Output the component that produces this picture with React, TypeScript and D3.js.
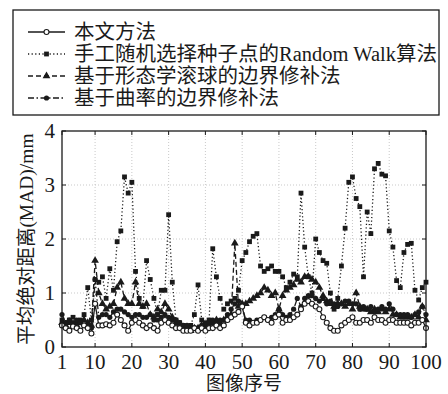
import React from "react";
import * as d3 from "d3";

// 图像序号 1..100
const imageIds = d3.range(1, 101);

// 本文方法
const oursMad = [
  0.4, 0.35, 0.3, 0.38, 0.35, 0.3, 0.4, 0.35, 0.25, 0.8,
  0.4, 0.4, 0.42, 0.4, 0.45, 0.6, 0.5, 0.4, 0.3, 0.45,
  0.5, 0.45, 0.4, 0.35, 0.4, 0.35, 0.3, 0.45, 0.5, 0.45,
  0.4, 0.35, 0.35, 0.3, 0.3, 0.3, 0.35, 0.3, 0.35, 0.3,
  0.35, 0.35, 0.4, 0.35, 0.4, 0.5, 0.55, 0.6, 0.65, 0.75,
  0.45, 0.4, 0.45, 0.45, 0.5, 0.55, 0.5, 0.45, 0.55, 0.6,
  0.45, 0.5, 0.5, 0.55, 0.6, 0.7, 0.8, 0.85, 0.8, 0.75,
  0.7, 0.55, 0.45, 0.35, 0.3, 0.3, 0.4, 0.45, 0.5, 0.55,
  0.45, 0.45, 0.5, 0.5, 0.45, 0.55, 0.5, 0.5, 0.45, 0.5,
  0.5, 0.45, 0.45, 0.45, 0.45, 0.4, 0.45, 0.45, 0.5, 0.35,
];

// 手工随机选择种子点的Random Walk算法
const randomWalkMad = [
  0.5, 0.45, 0.5, 0.55, 0.45, 0.5, 0.6, 1.1, 0.5, 1.25,
  1.2, 1.3, 0.9, 1.45, 1.05, 1.95, 2.15, 3.15, 2.85, 3.05,
  1.4, 0.9, 0.75, 1.6, 1.25, 0.9, 0.6, 1.05, 1.05, 2.45,
  1.2, 0.5, 0.45, 0.4, 0.35, 0.4, 0.6, 1.15, 0.5, 0.45,
  0.5, 1.82, 1.3, 0.9, 0.7, 0.8, 0.85, 0.9, 1.05, 1.6,
  1.75, 1.95, 2.05, 2.1, 1.5, 1.4, 1.45, 1.5, 1.4, 1.4,
  1.3, 1.1, 1.2, 1.35, 1.3, 2.85, 1.85, 1.3, 1.0, 2.0,
  1.75, 1.6, 1.55, 1.0, 0.7, 0.9, 1.5, 2.2, 3.05, 3.15,
  2.75, 2.6, 1.3, 2.5, 2.1, 3.3, 3.4, 3.2, 3.17, 2.15,
  1.85, 1.23, 1.1, 1.75, 1.9, 1.92, 1.05, 0.87, 1.1, 1.2,
];

// 基于形态学滚球的边界修补法
const morphMad = [
  0.45, 0.4, 0.45, 0.4, 0.4, 0.45, 0.5, 0.45, 0.4, 1.6,
  1.0, 0.8, 0.7, 0.75, 0.8, 1.1, 1.2, 0.9, 0.8, 0.8,
  1.2, 0.8, 0.75, 0.8, 0.6, 0.55, 0.7, 0.65, 0.8, 0.7,
  0.55, 0.45, 0.4, 0.35, 0.3, 0.3, 0.35, 0.35, 0.4, 0.35,
  0.4, 0.45, 0.5, 0.45, 0.5, 0.55, 0.6, 1.92, 0.75, 0.8,
  0.8, 0.85, 0.9, 0.95, 1.0, 1.1, 1.05, 0.95, 1.0, 0.7,
  0.95, 1.05, 1.1, 1.15, 1.25, 1.2, 1.3, 1.3, 1.25, 1.2,
  1.1, 0.95, 0.85, 0.8, 0.75, 0.8, 0.8, 0.75, 0.8, 0.7,
  1.0, 0.75, 0.7, 0.7, 0.65, 0.7, 0.65, 0.7, 0.65, 0.7,
  0.6, 0.6, 0.55, 0.55, 0.55, 0.55, 0.6, 0.55, 0.75, 0.5,
];

// 基于曲率的边界修补法
const curvatureMad = [
  0.6, 0.45, 0.5, 0.45, 0.5, 0.45, 0.4, 0.4, 0.35, 1.25,
  0.55, 0.6, 0.6, 0.55, 0.65, 0.7, 0.7, 0.65, 0.6, 0.55,
  0.6, 0.6, 0.55, 0.55, 0.6, 0.5, 0.5, 0.55, 0.6, 0.55,
  0.5, 0.5, 0.45, 0.4, 0.4, 0.35, 0.35, 0.35, 0.4, 0.4,
  0.45, 0.5, 0.45, 0.5, 0.5, 0.6, 0.7, 0.8, 0.85, 0.75,
  0.5, 0.5, 0.45, 0.5, 0.5, 0.55, 0.5, 0.55, 0.6, 0.7,
  0.6, 0.55, 0.6, 0.7, 0.9, 0.75, 0.9, 0.95, 0.95, 0.9,
  0.85, 0.9, 0.8, 0.85, 0.8, 0.75, 0.8, 0.85, 0.85, 0.8,
  0.8, 0.7, 0.75, 0.7, 0.75, 0.65, 0.7, 0.75, 0.7, 0.8,
  0.7, 0.6, 0.6, 0.6, 0.6, 0.55, 0.6, 0.65, 0.75, 0.6,
];

const seriesNames = [
  "本文方法",
  "手工随机选择种子点的Random Walk算法",
  "基于形态学滚球的边界修补法",
  "基于曲率的边界修补法",
];
const xTicks = [1, 10, 20, 30, 40, 50, 60, 70, 80, 90, 100];
const yTicks = [0, 1, 2, 3, 4];

const FONT = "'Liberation Serif', 'Times New Roman', 'Noto Sans CJK SC', serif";
const INK = "#1a1a1a";

type Marker = "openCircle" | "square" | "triangle" | "dot";
const styles: { dash: string; marker: Marker }[] = [
  { dash: "none", marker: "openCircle" },
  { dash: "1.2,2.4", marker: "square" },
  { dash: "5,3", marker: "triangle" },
  { dash: "6,2.5,1.5,2.5", marker: "dot" },
];

function MarkerShape({ kind, x, y }: { kind: Marker; x: number; y: number }) {
  if (kind === "openCircle")
    return <circle cx={x} cy={y} r={2.5} fill="#fff" stroke={INK} strokeWidth={1.1} />;
  if (kind === "square")
    return <rect x={x - 2.4} y={y - 2.4} width={4.8} height={4.8} fill={INK} />;
  if (kind === "triangle")
    return <path d={d3.symbol(d3.symbolTriangle, 26)()!} transform={`translate(${x},${y})`} fill={INK} />;
  return <circle cx={x} cy={y} r={2.6} fill={INK} />;
}

export default function App() {
  const x = d3.scaleLinear().domain([1, 100]).range([62, 426]);
  const y = d3.scaleLinear().domain([0, 4]).range([347, 131]);
  const allSeries = [oursMad, randomWalkMad, morphMad, curvatureMad];
  const lineGen = d3
    .line<number>()
    .x((_, i) => x(imageIds[i]))
    .y((v) => y(v));

  // draw order: background methods first, ours on top
  const order = [1, 2, 3, 0];

  return (
    <svg
      width={448}
      height={394}
      style={{ position: "absolute", left: 0, top: 0, background: "#fff" }}
      fontFamily={FONT}
    >
      <rect width={448} height={394} fill="#fff" />
      {/* legend */}
      <rect x={13} y={10} width={426} height={105} fill="#fff" stroke={INK} strokeWidth={1.3} />
      {seriesNames.map((name, i) => {
        const cy = 32 + i * 22;
        return (
          <g key={name}>
            <line x1={28} x2={65} y1={cy} y2={cy} stroke={INK} strokeWidth={1.3} strokeDasharray={styles[i].dash} />
            <MarkerShape kind={styles[i].marker} x={46.5} y={cy} />
            <text x={74} y={cy + 7} fontSize={20.5} fill={INK}>
              {name}
            </text>
          </g>
        );
      })}

      {/* grid */}
      {xTicks.slice(1, -1).map((t) => (
        <line key={"gx" + t} x1={x(t)} x2={x(t)} y1={y(0)} y2={y(4)} stroke="#bbb" strokeWidth={0.8} strokeDasharray="1,2" />
      ))}
      {yTicks.slice(1, -1).map((t) => (
        <line key={"gy" + t} x1={x(1)} x2={x(100)} y1={y(t)} y2={y(t)} stroke="#bbb" strokeWidth={0.8} strokeDasharray="1,2" />
      ))}

      {/* series */}
      {order.map((si) => (
        <g key={"s" + si}>
          <path
            d={lineGen(allSeries[si])!}
            fill="none"
            stroke={INK}
            strokeWidth={1.3}
            strokeDasharray={styles[si].dash}
          />
          {allSeries[si].map((v, i) => (
            <MarkerShape key={i} kind={styles[si].marker} x={x(imageIds[i])} y={y(v)} />
          ))}
        </g>
      ))}

      {/* axes box and ticks */}
      <rect x={x(1)} y={y(4)} width={x(100) - x(1)} height={y(0) - y(4)} fill="none" stroke={INK} strokeWidth={1.3} />
      {xTicks.map((t) => (
        <g key={"tx" + t}>
          <line x1={x(t)} x2={x(t)} y1={y(0)} y2={y(0) - 4} stroke={INK} />
          <line x1={x(t)} x2={x(t)} y1={y(4)} y2={y(4) + 4} stroke={INK} />
          <text x={x(t)} y={369} fontSize={21} textAnchor="middle" fill={INK}>
            {t}
          </text>
        </g>
      ))}
      {yTicks.map((t) => (
        <g key={"ty" + t}>
          <line x1={x(1)} x2={x(1) + 4} y1={y(t)} y2={y(t)} stroke={INK} />
          <line x1={x(100)} x2={x(100) - 4} y1={y(t)} y2={y(t)} stroke={INK} />
          <text x={55} y={y(t) + 7} fontSize={21} textAnchor="end" fill={INK}>
            {t}
          </text>
        </g>
      ))}
      <text x={244} y={390} fontSize={19} textAnchor="middle" fill={INK}>
        图像序号
      </text>
      <text
        transform={`translate(33,${(y(0) + y(4)) / 2}) rotate(-90)`}
        fontSize={19.5}
        textAnchor="middle"
        fill={INK}
      >
        平均绝对距离(MAD)/mm
      </text>
    </svg>
  );
}
